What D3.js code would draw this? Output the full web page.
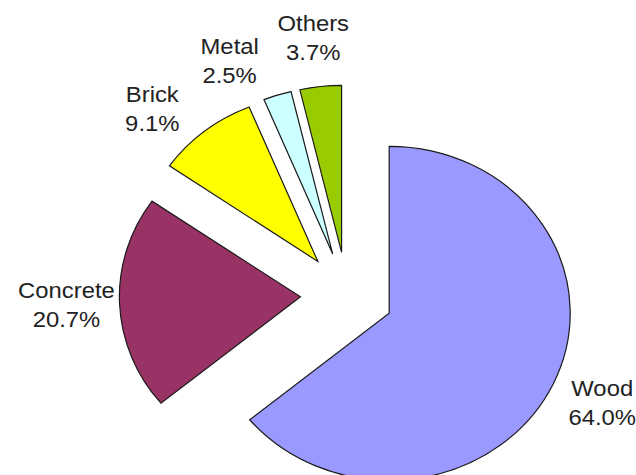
<!DOCTYPE html>
<html>
<head>
<meta charset="utf-8">
<script src="https://cdn.jsdelivr.net/npm/d3@7"></script>
<style>
  html, body { margin: 0; padding: 0; background: #fff; }
  svg { display: block; }
  text { font-family: "Liberation Sans", Arial, sans-serif; fill: #222; }
</style>
</head>
<body>
<svg id="chart" width="636" height="475"></svg>
<script>
// Share of materials (percent)
const categories = ["Wood", "Concrete", "Brick", "Metal", "Others"];
const shares = [64.0, 20.7, 9.1, 2.5, 3.7];
const colors = ["#9999FF", "#993366", "#FFFF00", "#CCFFFF", "#99CC00"];

// Layout
const W = 636, H = 475;
const stretchX = 1.084;          // horizontal aspect of the drawing
const cx = 347 / stretchX, cy = 295;
const radius = 167;
const explode = 43;              // how far each slice is pulled out
const labelRadius = 216;
const labelNudge = [-0.7, 0.3, -6.3, -8.3, -0.3]; // degrees, to keep labels apart
const fontSize = 22, lineGap = 29;

const svg = d3.select("#chart");
svg.append("rect").attr("width", W).attr("height", H).attr("fill", "#fff");

const g = svg.append("g").attr("transform", `scale(${stretchX},1)`);

const pie = d3.pie().sort(null).value(d => d.value).startAngle(0).endAngle(2 * Math.PI);
const data = pie(categories.map((c, i) => ({ name: c, value: shares[i], color: colors[i] })));

const arc = d3.arc().innerRadius(0).outerRadius(radius);

const slices = g.selectAll("g.slice")
  .data(data)
  .join("g")
  .attr("class", "slice")
  .attr("transform", d => {
    const mid = (d.startAngle + d.endAngle) / 2;
    const x = cx + explode * Math.sin(mid);
    const y = cy - explode * Math.cos(mid);
    return `translate(${x},${y})`;
  });

slices.append("path")
  .attr("d", arc)
  .attr("fill", d => d.data.color)
  .attr("stroke", "#1a1a1a")
  .attr("stroke-width", 1.2)
  .attr("stroke-linejoin", "miter")
  .attr("vector-effect", "non-scaling-stroke");

const capH = fontSize * 0.716;
const blockH = capH + lineGap;

slices.append("text")
  .attr("text-anchor", "middle")
  .attr("font-size", fontSize)
  .each(function (d, i) {
    const mid = (d.startAngle + d.endAngle) / 2 + labelNudge[i] * Math.PI / 180;
    const lx = labelRadius * Math.sin(mid);
    const ly = -labelRadius * Math.cos(mid);
    const t = d3.select(this);
    const b1 = ly - blockH / 2 + capH;
    t.append("tspan").attr("x", lx).attr("y", b1).text(d.data.name);
    t.append("tspan").attr("x", lx).attr("y", b1 + lineGap).text(d.data.value.toFixed(1) + "%");
  });
</script>
</body>
</html>
